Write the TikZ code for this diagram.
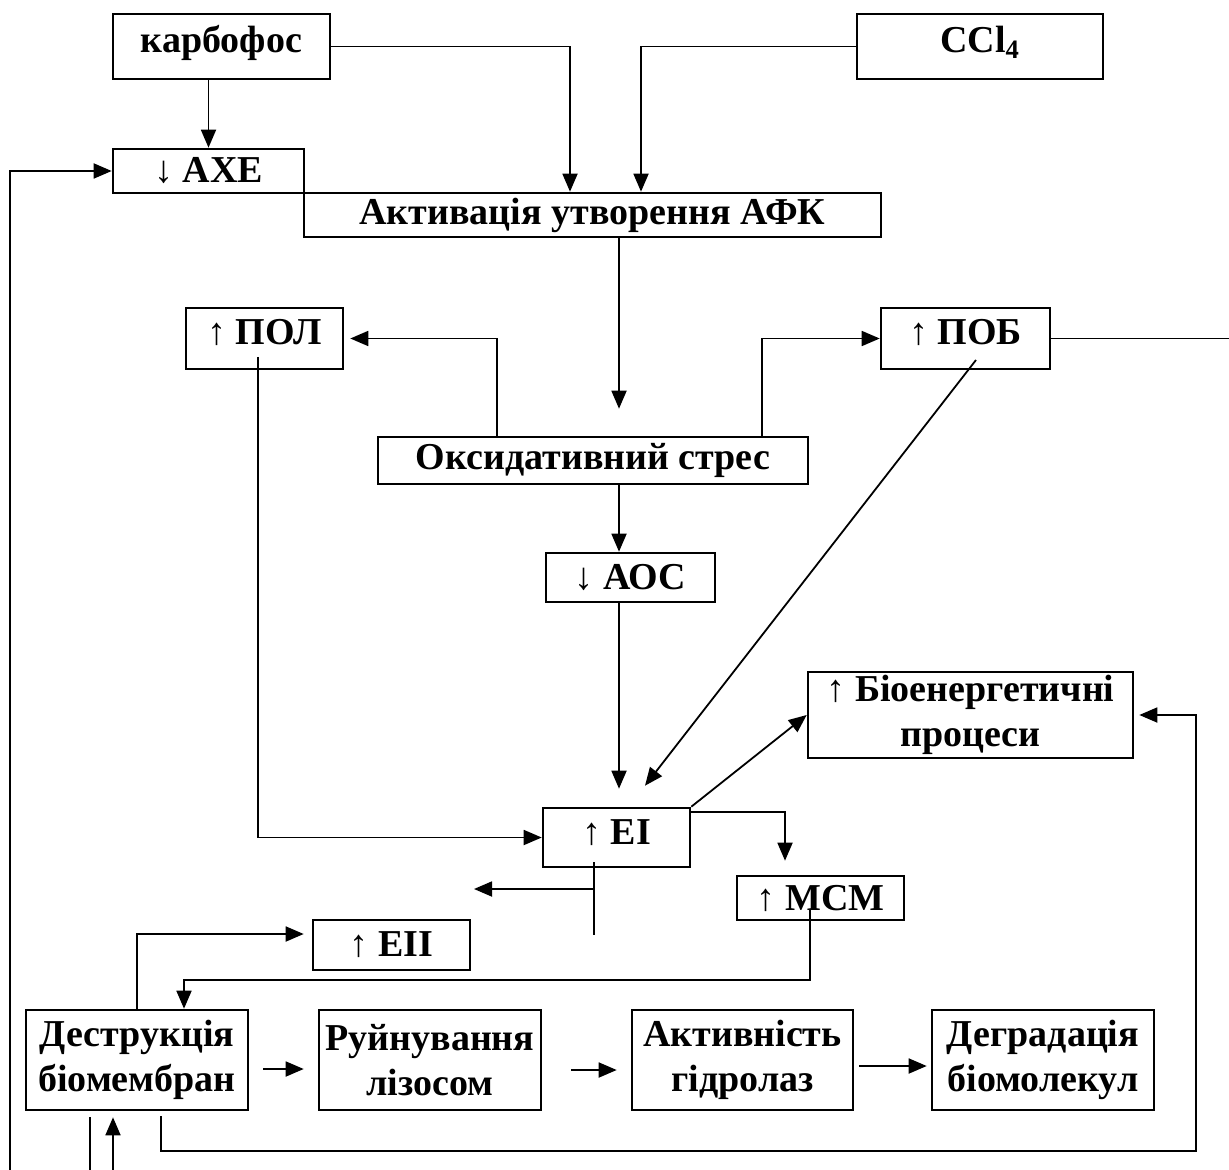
\documentclass[tikz,border=0pt]{standalone}
\usepackage{fontspec}
\setmainfont{Liberation Serif}
\usetikzlibrary{arrows.meta}

\begin{document}
\begin{tikzpicture}[x=0.5pt,y=-0.5pt,
  font=\fontsize{19}{22.5}\selectfont\bfseries,
  box/.style={draw,line width=1.3pt,inner sep=0pt,align=center},
  raised/.style={text height=13.5pt,text depth=7pt},
  link/.style={line width=0.9pt,-{Triangle[length=9pt,width=7.5pt]}}]
\useasboundingbox (0,0) rectangle (1229,1170);
% boxes
\node[box,raised,minimum width=108.5pt,minimum height=32.5pt] (carb) at (221.5,46.5) {карбофос};
\node[box,raised,minimum width=123pt,minimum height=32.5pt] (ccl) at (980,46.5) {CCl\textsubscript{4}};
\node[box,minimum width=95.5pt,minimum height=22pt] (axe) at (208.5,171) {↓ АХЕ};
\node[box,minimum width=288.5pt,minimum height=22pt] (afk) at (592.5,215) {Активація утворення АФК};
\node[box,raised,minimum width=78.5pt,minimum height=30.5pt] (pol) at (264.5,338.5) {↑ ПОЛ};
\node[box,raised,minimum width=84.5pt,minimum height=30.5pt] (pob) at (965.5,338.5) {↑ ПОБ};
\node[box,minimum width=215pt,minimum height=23.5pt] (stress) at (593,460.5) {Оксидативний стрес};
\node[box,minimum width=84.5pt,minimum height=24.5pt] (aos) at (630.5,577.5) {↓ АОС};
\node[box,minimum width=162.5pt,minimum height=43pt] (bio) at (970.5,715) {↑ Біоенергетичні\\процеси};
\node[box,raised,minimum width=73.5pt,minimum height=29.5pt] (ei) at (616.5,837.5) {↑ ЕI};
\node[box,minimum width=83.5pt,minimum height=22pt] (msm) at (820.5,898) {↑ МСМ};
\node[box,minimum width=78.5pt,minimum height=25pt] (eii) at (391.5,945) {↑ ЕII};
\node[box,minimum width=111pt,minimum height=50pt] (destr) at (137,1060) {Деструкція\\біомембран};
\node[box,minimum width=111pt,minimum height=50pt] (ruin) at (430,1060) {Руйнування\\лізосом};
\node[box,minimum width=110.5pt,minimum height=50pt] (activ) at (742.5,1060) {Активність\\гідролаз};
\node[box,minimum width=111pt,minimum height=50pt] (degr) at (1043,1060) {Деградація\\біомолекул};
% free ends
\coordinate (lb) at (10,1170);
\coordinate (re) at (1229,338.5);
\coordinate (eistub) at (594,935);
\coordinate (eileft) at (474,889);
\coordinate (b1) at (90,1170);
\coordinate (b2) at (113,1170);
% connectors
\draw[link] (carb.east) -| ([xshift=-11.25pt]afk.north);
\draw[link] (ccl.west) -| ([xshift=24.25pt]afk.north);
\draw[link] (carb.south -| axe.north) -- (axe.north);
\draw[link] (lb) |- (axe.west);
\draw[link,shorten >=13.5pt] ([xshift=13.25pt]afk.south) -- ([xshift=13pt]stress.north);
\draw[link,shorten >=3pt] ([xshift=-48pt]stress.north) |- (pol.east);
\draw[link] ([xshift=84.5pt]stress.north) |- (pob.west);
\draw[line width=0.9pt] (pob.east) -- (re);
\draw[link] ([xshift=13pt]stress.south) -- ([xshift=-5.75pt]aos.north);
\draw[link,shorten >=9pt] ([xshift=-5.75pt]aos.south) -- ([xshift=1.25pt]ei.north);
\draw[link] ([xshift=5.25pt,yshift=-10.75pt]pob.center) -- ([xshift=14.25pt,yshift=10.5pt]ei.north);
\draw[link] ([xshift=-3.25pt,yshift=-9.25pt]pol.center) |- (ei.west);
\draw[link] (ei.north east) -- (bio.west);
\draw[link,shorten >=7pt] ([yshift=-2.5pt]ei.north east) -| ([xshift=-17.75pt]msm.north);
\draw[line width=0.9pt] ([xshift=-11.25pt,yshift=-12.25pt]ei.center) -- (eistub);
\draw[link] (eistub |- eileft) -- (eileft);
\draw[link] ([xshift=-5.25pt,yshift=-6pt]msm.center) -- ++(0,70) -| ([xshift=23.5pt]destr.north);
\draw[link,shorten >=4pt] (destr.north) |- ([yshift=5.5pt]eii.west);
\draw[link,shorten <=7pt,shorten >=7pt] ([yshift=-4.5pt]destr.east) -- ([yshift=-4.5pt]ruin.west);
\draw[link,shorten <=14.5pt,shorten >=7pt] ([yshift=-5pt]ruin.east) -- ([yshift=-5pt]activ.west);
\draw[link,shorten <=2.5pt,shorten >=2pt] ([yshift=-3pt]activ.east) -- ([yshift=-3pt]degr.west);
\draw[link,shorten <=2.5pt,shorten >=2.5pt] ([xshift=12pt]destr.south) -- ++(0,40) -| ([xshift=31pt]bio.east) |- (bio.east);
\draw[line width=0.9pt,shorten >=3pt] (b1) -- (b1 |- destr.south);
\draw[link,shorten >=3pt] (b2) -- (b2 |- destr.south);
\end{tikzpicture}
\end{document}
